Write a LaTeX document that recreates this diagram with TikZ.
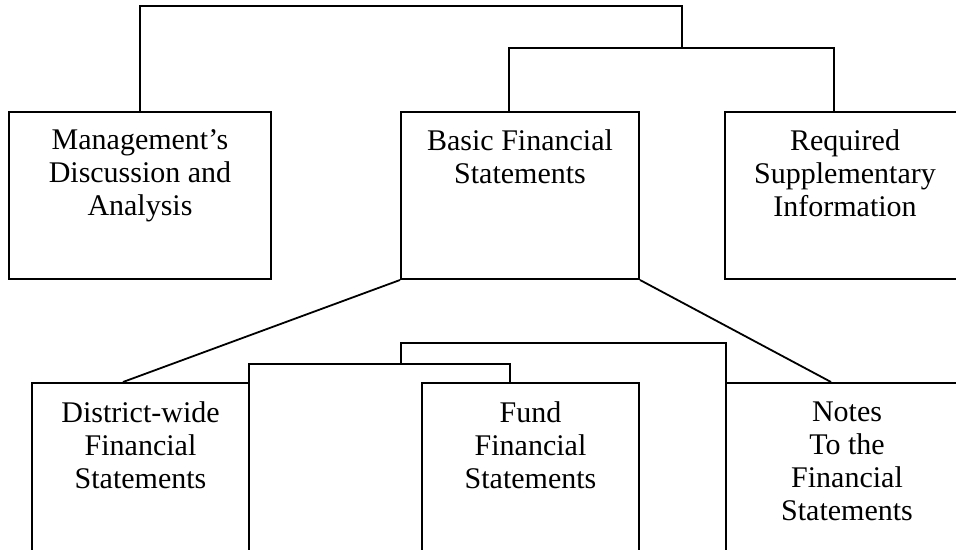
\documentclass[tikz,border=0pt]{standalone}
\usepackage{fontspec}
\setmainfont{Liberation Serif}
\usepackage{tikz}
\usetikzlibrary{positioning,calc}

\begin{document}
\begin{tikzpicture}[x=0.5pt,y=-0.5pt,
		box/.style={draw,line width=1pt,fill=white,anchor=north west,inner sep=0pt},
		txt/.style={align=center,inner sep=0pt,font=\fontsize{15}{16.5}\selectfont},
		link/.style={line width=0.9pt}]
		\useasboundingbox (0,0) rectangle (956,550);
		\clip (0,0) rectangle (956,550);

		% Top row
		\node[box,minimum width=131pt,minimum height=83.5pt] (mda) at (8,111) {};
		\node[box,minimum width=119pt,minimum height=83.5pt] (bfs) at (400,111) {};
		\node[box,minimum width=120pt,minimum height=83.5pt] (rsi) at (724,111) {};
		\node[txt,below=9pt of mda.north] (mdatxt) {Management's\\Discussion and\\Analysis};
		\node[txt,below=9pt of bfs.north] (bfstxt) {Basic Financial\\Statements};
		\node[txt,below=9pt of rsi.north] (rsitxt) {Required\\Supplementary\\Information};

		% Brackets above the top row
		\coordinate (join) at (682,48);
		\draw[link] ($(bfs.north)+(-11,0)$) -- ++(0,-63) -| ($(rsi.north)+(-11,0)$);
		\draw[link] (mda.north) -- ++(0,-105) -| (join);

		% Bottom row, back to front
		\node[box,minimum width=162.5pt,minimum height=125pt] (back2) at (400,342) {};
		\node[box,minimum width=130.5pt,minimum height=125pt] (back1) at (248,363) {};
		\node[box,minimum width=108.5pt,minimum height=125pt] (dwf) at (31,382) {};
		\node[box,minimum width=108.5pt,minimum height=125pt] (fund) at (421,382) {};
		\node[box,minimum width=121pt,minimum height=125pt] (notes) at (725,382) {};
		\node[txt,below=9.5pt of dwf.north] (dwftxt) {District-wide\\Financial\\Statements};
		\node[txt,below=9.5pt of fund.north] (fundtxt) {Fund\\Financial\\Statements};
		\node[txt,below=9.5pt of notes.north] (notestxt) {Notes\\To the\\Financial\\Statements};

		% Links from the basic statements
		\draw[link] (bfs.south west) -- ($(dwf.north west)+(92,0)$);
		\draw[link] (bfs.south east) -- ($(notes.north west)+(106,0)$);
	\end{tikzpicture}
\end{document}
